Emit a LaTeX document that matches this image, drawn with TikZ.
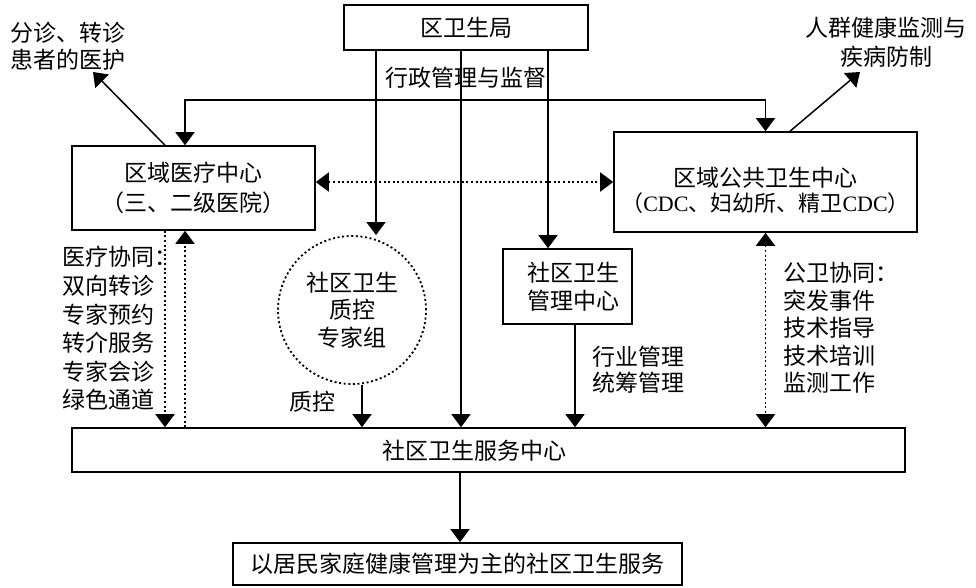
\documentclass[tikz,border=0pt]{standalone}
\usepackage{fontspec}
\setmainfont{Noto Sans CJK SC}
\newfontfamily\lat{Liberation Serif}
\usetikzlibrary{arrows.meta}
\begin{document}
\begin{tikzpicture}[x=1pt,y=-1pt,
  >={Triangle[width=19pt,length=13pt]},
  every node/.style={font=\fontsize{23}{28}\selectfont, inner sep=0pt},
  box/.style={draw, line width=1.6pt, rectangle, align=center},
  lbl/.style={align=left},
  link/.style={line width=1.5pt},
  dotline/.style={line width=1.8pt, dash pattern=on 2pt off 2.6pt},
]
\useasboundingbox (0,0) rectangle (976,587);

% boxes
\node[box, minimum width=244pt, minimum height=45pt] (ju) at (466,27.5) {区卫生局};
\node (xz) at (466,78) {行政管理与监督};
\node[box, minimum width=243pt, minimum height=84pt] (yl) at (193.5,188) {区域医疗中心\\[2pt]（三、二级医院）};
\node[box, minimum width=303pt, minimum height=100pt] (gw) at (765.5,182) {};
\node[align=center] (gwt) at (765.5,190) {区域公共卫生中心\\[-3pt]{\fontsize{22}{28}\selectfont（{\lat CDC}、妇幼所、精卫{\lat CDC}）}};
\node[draw, circle, dotline, minimum size=148pt, align=center, font=\fontsize{23}{27.5}\selectfont] (qc) at (352,310) {社区卫生\\质控\\专家组};
\node[box, minimum width=129pt, minimum height=75pt] (gl) at (567.5,286.5) {\hspace*{12pt}社区卫生\\\hspace*{12pt}管理中心};
\node[box, minimum width=833pt, minimum height=44pt] (fw) at (488.5,450) {};
\node (fwt) at (474,451) {社区卫生服务中心};
\node[box, minimum width=449pt, minimum height=42pt] (jm) at (457.5,564) {以居民家庭健康管理为主的社区卫生服务};

% labels
\node[lbl, anchor=west, font=\fontsize{23}{27}\selectfont] (fz) at (10,46.5) {分诊、转诊\\患者的医护};
\node[align=center, font=\fontsize{23}{29}\selectfont] (rq) at (886,42.5) {人群健康监测与\\疾病防制};
\node[lbl, anchor=west, font=\fontsize{23}{28.6}\selectfont] (ylx) at (62,328.5) {医疗协同：\\双向转诊\\专家预约\\转介服务\\专家会诊\\绿色通道};
\node[lbl, anchor=west, font=\fontsize{23}{27.5}\selectfont] (gwx) at (783,328) {公卫协同：\\突发事件\\技术指导\\技术培训\\监测工作};
\node[lbl, anchor=west, font=\fontsize{23}{26}\selectfont] (glx) at (592,370) {行业管理\\统筹管理};
\node (qcx) at (312,402) {质控};

\coordinate (fzend) at (93,72);
\coordinate (rqend) at (860,72);
\coordinate (bar) at (466,100);

% connectors
\draw[link,->] ([xshift=-90pt]ju.south) -- ([xshift=-90pt]ju.south |- qc.north);
\draw[link,->] ([xshift=-5pt]ju.south) -- ([xshift=-5pt]ju.south |- fw.north);
\draw[link,->] ([xshift=82pt]ju.south) -- ([xshift=82pt]ju.south |- gl.north);
\draw[link,<->] ([xshift=-8.5pt]yl.north) |- (bar) -| (gw.north);
\draw[dotline,<->] (gw.west -| yl.east) -- (gw.west);
\draw[link,->] ([xshift=-28.5pt]yl.north) -- (fzend);
\draw[link,->] ([xshift=24.5pt]gw.north) -- (rqend);
\draw[dotline,->] ([xshift=-28.5pt]yl.south) -- ([xshift=-28.5pt]yl.south |- fw.north);
\draw[dotline,->] ([xshift=-8.5pt]yl.south |- fw.north) -- ([xshift=-8.5pt]yl.south);
\draw[link,->] ([xshift=10pt]qc.south) -- ([xshift=10pt]qc.south |- fw.north);
\draw[link,->] ([xshift=7.5pt]gl.south) -- ([xshift=7.5pt]gl.south |- fw.north);
\draw[dotline,<->] (gw.south) -- (gw.south |- fw.north);
\draw[link,->] ([xshift=2.5pt]jm.north |- fw.south) -- ([xshift=2.5pt]jm.north);
\end{tikzpicture}
\end{document}
